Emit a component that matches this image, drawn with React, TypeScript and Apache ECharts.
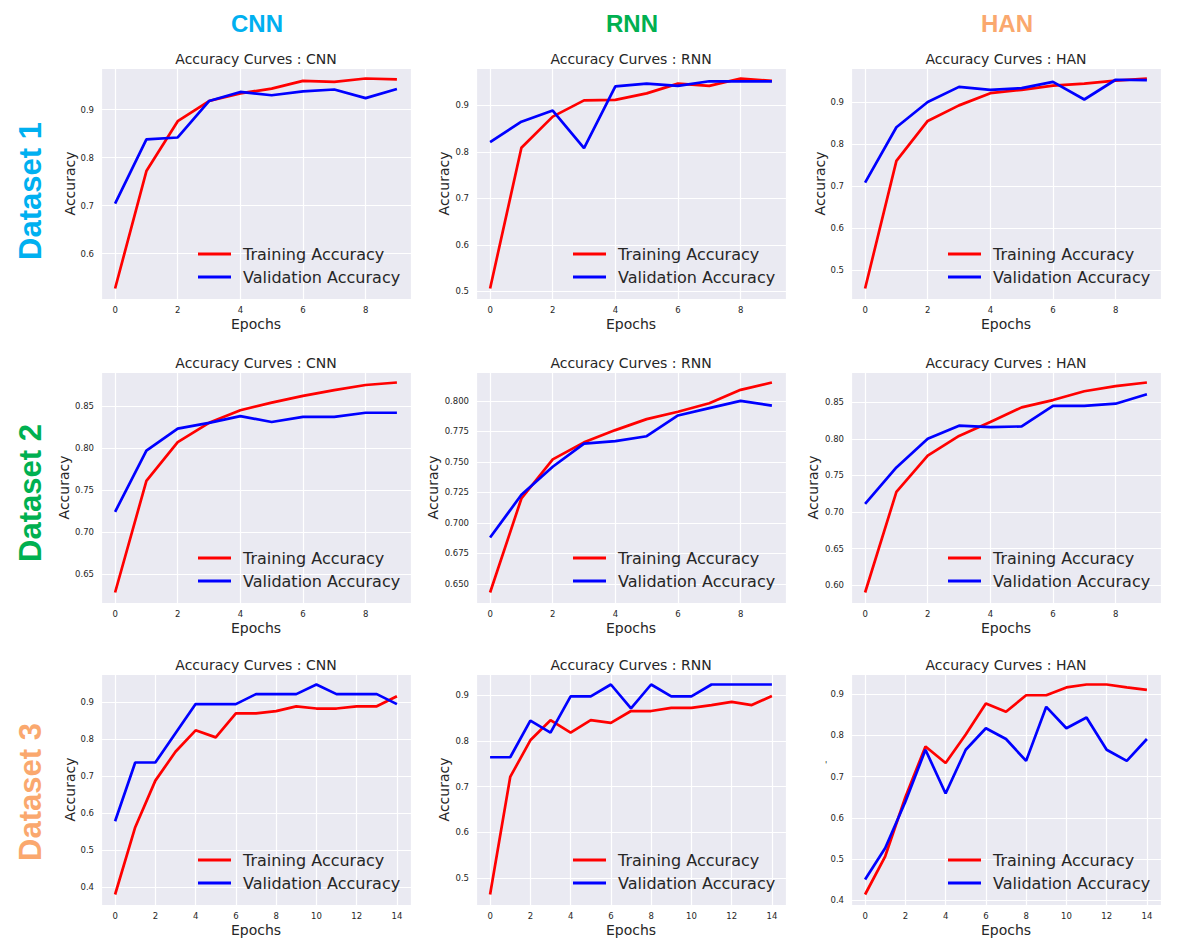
import React, { useEffect, useRef } from "react";
import * as echarts from "echarts";

// ---------- data ----------
const models = ["CNN", "RNN", "HAN"];
const datasets = ["Dataset 1", "Dataset 2", "Dataset 3"];
const groupColors = ["#00B0F0", "#00B050", "#FAA86E"];
const seriesNames = ["Training Accuracy", "Validation Accuracy"];

const epochs10 = [0, 1, 2, 3, 4, 5, 6, 7, 8, 9];
const epochs15 = [0, 1, 2, 3, 4, 5, 6, 7, 8, 9, 10, 11, 12, 13, 14];

// Dataset 1
const d1CnnTrain = [0.527, 0.772, 0.876, 0.918, 0.934, 0.944, 0.96, 0.958, 0.965, 0.963];
const d1CnnVal = [0.704, 0.838, 0.842, 0.918, 0.937, 0.93, 0.938, 0.942, 0.924, 0.943];
const d1RnnTrain = [0.506, 0.809, 0.876, 0.911, 0.912, 0.926, 0.947, 0.942, 0.958, 0.953];
const d1RnnVal = [0.821, 0.865, 0.889, 0.808, 0.941, 0.947, 0.942, 0.952, 0.952, 0.952];
const d1HanTrain = [0.456, 0.76, 0.855, 0.892, 0.921, 0.929, 0.939, 0.944, 0.951, 0.956];
const d1HanVal = [0.708, 0.84, 0.9, 0.936, 0.929, 0.933, 0.948, 0.906, 0.953, 0.952];

// Dataset 2
const d2CnnTrain = [0.628, 0.761, 0.807, 0.83, 0.845, 0.854, 0.862, 0.869, 0.875, 0.878];
const d2CnnVal = [0.724, 0.797, 0.823, 0.83, 0.838, 0.831, 0.837, 0.837, 0.842, 0.842];
const d2RnnTrain = [0.643, 0.72, 0.752, 0.766, 0.776, 0.785, 0.791, 0.798, 0.809, 0.815];
const d2RnnVal = [0.688, 0.723, 0.746, 0.765, 0.767, 0.771, 0.788, 0.794, 0.8, 0.796];
const d2HanTrain = [0.59, 0.7275, 0.777, 0.804, 0.823, 0.843, 0.853, 0.865, 0.872, 0.877];
const d2HanVal = [0.711, 0.761, 0.8, 0.818, 0.816, 0.817, 0.845, 0.845, 0.848, 0.861];

// Dataset 3
const d3CnnTrain = [0.38, 0.562, 0.688, 0.766, 0.824, 0.805, 0.87, 0.87, 0.876, 0.889, 0.883, 0.883, 0.889, 0.889, 0.916];
const d3CnnVal = [0.578, 0.737, 0.737, 0.816, 0.895, 0.895, 0.895, 0.922, 0.922, 0.922, 0.948, 0.922, 0.922, 0.922, 0.895];
const d3RnnTrain = [0.464, 0.721, 0.801, 0.845, 0.818, 0.845, 0.839, 0.865, 0.865, 0.872, 0.872, 0.878, 0.885, 0.878, 0.898];
const d3RnnVal = [0.764, 0.764, 0.844, 0.818, 0.897, 0.897, 0.923, 0.871, 0.923, 0.897, 0.897, 0.923, 0.923, 0.923, 0.923];
const d3HanTrain = [0.4145, 0.507, 0.65, 0.773, 0.733, 0.802, 0.877, 0.857, 0.897, 0.897, 0.916, 0.923, 0.923, 0.916, 0.91];
const d3HanVal = [0.451, 0.527, 0.639, 0.765, 0.659, 0.765, 0.817, 0.791, 0.738, 0.869, 0.817, 0.843, 0.765, 0.738, 0.791];

// tick steps and label decimals per panel (row-major)
const xTickStep = [2, 2, 2, 2, 2, 2, 2, 2, 2];
const yTickStep = [0.1, 0.1, 0.1, 0.05, 0.025, 0.05, 0.1, 0.1, 0.1];
const yTickDecimals = [1, 1, 1, 2, 3, 2, 1, 1, 1];
const yAxisNames = ["Accuracy", "Accuracy", "Accuracy", "Accuracy", "Accuracy", "Accuracy", "Accuracy", "Accuracy", ""];

const panelEpochs = [epochs10, epochs10, epochs10, epochs10, epochs10, epochs10, epochs15, epochs15, epochs15];
const panelTrain = [d1CnnTrain, d1RnnTrain, d1HanTrain, d2CnnTrain, d2RnnTrain, d2HanTrain, d3CnnTrain, d3RnnTrain, d3HanTrain];
const panelVal = [d1CnnVal, d1RnnVal, d1HanVal, d2CnnVal, d2RnnVal, d2HanVal, d3CnnVal, d3RnnVal, d3HanVal];

// ---------- layout / style ----------
const FONT = '"DejaVu Sans", sans-serif';
const TXT = "#262626";
const colLeft = [101, 476, 851];
const rowTop = [68, 372, 674];
const PW = 310;
const PH = 231;
const yNameGap = [23, 25, 23, 30, 36, 31, 24, 25, 24];
const datasetLabelY = [191, 493, 792];

function padExtent(min: number, max: number) {
  const s = max - min;
  return [min - 0.05 * s, max + 0.05 * s];
}

function onStep(v: number, step: number) {
  const k = v / step;
  return Math.abs(k - Math.round(k)) < 1e-6;
}

function buildOption() {
  const grid: any[] = [];
  const xAxis: any[] = [];
  const yAxis: any[] = [];
  const series: any[] = [];
  const title: any[] = [];
  const legend: any[] = [];
  const graphic: any[] = [];

  for (let i = 0; i < 9; i++) {
    const r = Math.floor(i / 3);
    const c = i % 3;
    const left = colLeft[c];
    const top = rowTop[r];
    const ep = panelEpochs[i];
    const tr = panelTrain[i];
    const va = panelVal[i];
    const n = ep.length - 1;
    const all = tr.concat(va);
    const [ymin, ymax] = padExtent(Math.min(...all), Math.max(...all));
    const ystep = yTickStep[i];
    const ydec = yTickDecimals[i];
    const xstep = xTickStep[i];

    grid.push({
      left,
      top,
      width: PW,
      height: PH,
      show: true,
      backgroundColor: "#EAEAF2",
      borderWidth: 0,
    });

    xAxis.push({
      type: "value",
      gridIndex: i,
      min: -0.05 * n,
      max: n * 1.05,
      minInterval: xstep,
      maxInterval: xstep,
      splitNumber: 5,
      axisLine: { show: false },
      axisTick: { show: false },
      splitLine: { show: true, lineStyle: { color: "#ffffff", width: 1.2 } },
      axisLabel: {
        margin: 6,
        fontSize: 8.5,
        color: TXT,
        fontFamily: FONT,
        formatter: (v: number) => (onStep(v, xstep) ? String(Math.round(v)) : ""),
      },
      name: "Epochs",
      nameLocation: "middle",
      nameGap: 18,
      nameTextStyle: { fontSize: 14, color: TXT, fontFamily: FONT },
    });

    yAxis.push({
      type: "value",
      gridIndex: i,
      min: ymin,
      max: ymax,
      minInterval: ystep,
      maxInterval: ystep,
      axisLine: { show: false },
      axisTick: { show: false },
      splitLine: { show: true, lineStyle: { color: "#ffffff", width: 1.2 } },
      axisLabel: {
        margin: 7,
        fontSize: 8.5,
        color: TXT,
        fontFamily: FONT,
        formatter: (v: number) => (onStep(v, ystep) ? v.toFixed(ydec) : ""),
      },
      name: yAxisNames[i],
      nameLocation: "middle",
      nameGap: yNameGap[i],
      nameTextStyle: { fontSize: 14, color: TXT, fontFamily: FONT },
    });

    series.push({
      type: "line",
      name: seriesNames[0],
      xAxisIndex: i,
      yAxisIndex: i,
      data: ep.map((e, k) => [e, tr[k]]),
      symbol: "none",
      color: "#ff0000",
      itemStyle: { color: "#ff0000" },
      lineStyle: { color: "#ff0000", width: 2.7 },
    });
    series.push({
      type: "line",
      name: seriesNames[1],
      xAxisIndex: i,
      yAxisIndex: i,
      data: ep.map((e, k) => [e, va[k]]),
      symbol: "none",
      color: "#0000ff",
      itemStyle: { color: "#0000ff" },
      lineStyle: { color: "#0000ff", width: 2.7 },
    });

    title.push({
      text: "Accuracy Curves : " + models[c],
      left: left + PW / 2,
      top: top - 16,
      textAlign: "center",
      padding: 0,
      textStyle: { fontSize: 14, fontWeight: "normal", color: TXT, fontFamily: FONT },
    });

    legend.push({
      data: seriesNames,
      left: left + 97,
      top: top + 177,
      orient: "vertical",
      icon: "rect",
      itemWidth: 33,
      itemHeight: 3,
      itemGap: 5,
      padding: 0,
      selectedMode: false,
      textStyle: { fontSize: 16, lineHeight: 18, color: TXT, fontFamily: FONT, padding: [0, 0, 0, 7] },
    });
  }

  // column headers
  for (let c = 0; c < 3; c++) {
    graphic.push({
      type: "text",
      x: colLeft[c] + PW / 2 + 1,
      y: 23,
      style: {
        text: models[c],
        font: 'bold 24px "Liberation Sans", Arial, sans-serif',
        fill: groupColors[c],
        align: "center",
        verticalAlign: "middle",
        textAlign: "center",
        textVerticalAlign: "middle",
      },
    });
  }
  // row labels
  for (let r = 0; r < 3; r++) {
    graphic.push({
      type: "text",
      x: 30,
      y: datasetLabelY[r],
      rotation: Math.PI / 2,
      style: {
        text: datasets[r],
        font: 'bold 31px "Liberation Sans", Arial, sans-serif',
        fill: groupColors[r],
        align: "center",
        verticalAlign: "middle",
        textAlign: "center",
        textVerticalAlign: "middle",
      },
    });
  }
  // tiny remnant mark in the last panel's y-label position
  graphic.push({
    type: "text",
    x: 826,
    y: 765,
    style: {
      text: "'",
      font: '8px "DejaVu Sans", sans-serif',
      fill: TXT,
      align: "center",
      verticalAlign: "middle",
      textAlign: "center",
      textVerticalAlign: "middle",
    },
  });

  return {
    animation: false,
    backgroundColor: "#ffffff",
    grid,
    xAxis,
    yAxis,
    series,
    title,
    legend,
    graphic,
  };
}

export default function App() {
  const ref = useRef<HTMLDivElement>(null);
  useEffect(() => {
    if (!ref.current) return;
    const chart = echarts.init(ref.current, undefined, { renderer: "svg" });
    chart.setOption(buildOption() as any);
    return () => {
      chart.dispose();
    };
  }, []);
  return (
    <div
      ref={ref}
      style={{ position: "absolute", left: 0, top: 0, width: 1200, height: 938 }}
    />
  );
}
